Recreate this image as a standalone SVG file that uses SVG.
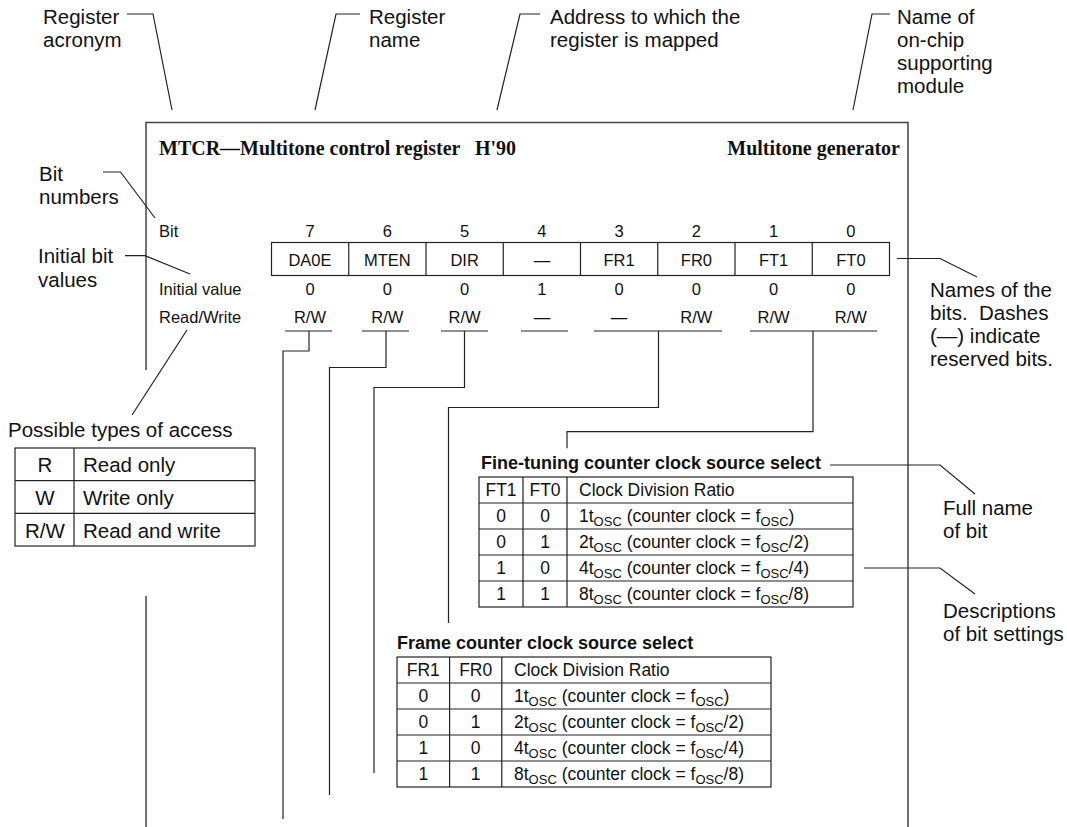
<svg xmlns="http://www.w3.org/2000/svg" width="1067" height="827" viewBox="0 0 1067 827">
<style>
.ln{stroke:#222;stroke-width:1.2;fill:none}
.fr{stroke:#444;stroke-width:1.5;fill:none}
.lab{font-family:"Liberation Sans",Arial,sans-serif;font-size:20.5px;fill:#111}
.reg{font-family:"Liberation Sans",Arial,sans-serif;font-size:16.5px;fill:#111}
.tb{font-family:"Liberation Sans",Arial,sans-serif;font-size:17.5px;fill:#111}
.tt{font-family:"Liberation Sans",Arial,sans-serif;font-size:18px;font-weight:bold;fill:#111}
.hd{font-family:"Liberation Serif","Times New Roman",serif;font-size:20px;font-weight:bold;fill:#111}
.c{text-anchor:middle}
</style>
<rect width="1067" height="827" fill="#fff"/>

<g id="frame">
<path class="fr" d="M146,370 V122.5 H908 V827 M146,596 V827"/>
<text class="hd" x="159" y="155">MTCR—Multitone control register</text>
<text class="hd" x="475" y="155">H'90</text>
<text class="hd" x="900" y="155" text-anchor="end">Multitone generator</text>
</g>

<g id="labels">
<text class="lab" x="43" y="24">Register</text>
<text class="lab" x="43" y="47">acronym</text>
<text class="lab" x="369" y="24">Register</text>
<text class="lab" x="369" y="47">name</text>
<text class="lab" x="550" y="24">Address to which the</text>
<text class="lab" x="550" y="47">register is mapped</text>
<text class="lab" x="897" y="24">Name of</text>
<text class="lab" x="897" y="47">on-chip</text>
<text class="lab" x="897" y="70">supporting</text>
<text class="lab" x="897" y="93">module</text>
<text class="lab" x="39" y="181">Bit</text>
<text class="lab" x="39" y="204">numbers</text>
<text class="lab" x="38" y="263">Initial bit</text>
<text class="lab" x="38" y="287">values</text>
<text class="lab" x="930" y="297">Names of the</text>
<text class="lab" x="930" y="320">bits.&#160; Dashes</text>
<text class="lab" x="930" y="343">(—) indicate</text>
<text class="lab" x="930" y="366">reserved bits.</text>
<text class="lab" x="943" y="515">Full name</text>
<text class="lab" x="943" y="538">of bit</text>
<text class="lab" x="943" y="618">Descriptions</text>
<text class="lab" x="943" y="641">of bit settings</text>
</g>

<g id="register">
<text class="reg" x="159" y="237">Bit</text>
<text class="reg" x="159" y="295">Initial value</text>
<text class="reg" x="159" y="323">Read/Write</text>
<rect class="ln" x="271.5" y="242.5" width="618" height="33"/>
<path class="ln" d="M348.75,242.5V275.5M426,242.5V275.5M503.25,242.5V275.5M580.5,242.5V275.5M657.75,242.5V275.5M735,242.5V275.5M812.25,242.5V275.5"/>
<g class="reg c">
<text x="310" y="237">7</text><text x="387.4" y="237">6</text><text x="464.6" y="237">5</text><text x="541.9" y="237">4</text>
<text x="619.1" y="237">3</text><text x="696.4" y="237">2</text><text x="773.6" y="237">1</text><text x="850.9" y="237">0</text>
<text x="310" y="266">DA0E</text><text x="387.4" y="266">MTEN</text><text x="464.6" y="266">DIR</text><text x="541.9" y="266">—</text>
<text x="619.1" y="266">FR1</text><text x="696.4" y="266">FR0</text><text x="773.6" y="266">FT1</text><text x="850.9" y="266">FT0</text>
<text x="310" y="295">0</text><text x="387.4" y="295">0</text><text x="464.6" y="295">0</text><text x="541.9" y="295">1</text>
<text x="619.1" y="295">0</text><text x="696.4" y="295">0</text><text x="773.6" y="295">0</text><text x="850.9" y="295">0</text>
<text x="310" y="323">R/W</text><text x="387.4" y="323">R/W</text><text x="464.6" y="323">R/W</text><text x="541.9" y="323">—</text>
<text x="619.1" y="323">—</text><text x="696.4" y="323">R/W</text><text x="773.6" y="323">R/W</text><text x="850.9" y="323">R/W</text>
</g>
</g>

<g id="access">
<text class="lab" x="8" y="437">Possible types of access</text>
<rect class="ln" x="15" y="448" width="240" height="98"/>
<path class="ln" d="M74,448V546M15,480.7H255M15,513.3H255"/>
<text class="lab c" x="45" y="472">R</text>
<text class="lab" x="83" y="472">Read only</text>
<text class="lab c" x="45" y="505">W</text>
<text class="lab" x="83" y="505">Write only</text>
<text class="lab c" x="45" y="538">R/W</text>
<text class="lab" x="83" y="538">Read and write</text>
</g>

<g id="finetune">
<text class="tt" x="481" y="469">Fine-tuning counter clock source select</text>
<rect class="ln" x="479" y="477" width="374" height="130"/>
<path class="ln" d="M523,477V607M567,477V607M479,503H853M479,529H853M479,555H853M479,581H853"/>
<g class="tb">
<text class="c" x="501" y="496">FT1</text><text class="c" x="545" y="496">FT0</text><text x="579" y="496">Clock Division Ratio</text>
<text class="c" x="501" y="522">0</text><text class="c" x="545" y="522">0</text>
<text x="579" y="522">1t<tspan dy="4" font-size="13">OSC</tspan><tspan dy="-4"> (counter clock = f</tspan><tspan dy="4" font-size="13">OSC</tspan><tspan dy="-4">)</tspan></text>
<text class="c" x="501" y="548">0</text><text class="c" x="545" y="548">1</text>
<text x="579" y="548">2t<tspan dy="4" font-size="13">OSC</tspan><tspan dy="-4"> (counter clock = f</tspan><tspan dy="4" font-size="13">OSC</tspan><tspan dy="-4">/2)</tspan></text>
<text class="c" x="501" y="574">1</text><text class="c" x="545" y="574">0</text>
<text x="579" y="574">4t<tspan dy="4" font-size="13">OSC</tspan><tspan dy="-4"> (counter clock = f</tspan><tspan dy="4" font-size="13">OSC</tspan><tspan dy="-4">/4)</tspan></text>
<text class="c" x="501" y="600">1</text><text class="c" x="545" y="600">1</text>
<text x="579" y="600">8t<tspan dy="4" font-size="13">OSC</tspan><tspan dy="-4"> (counter clock = f</tspan><tspan dy="4" font-size="13">OSC</tspan><tspan dy="-4">/8)</tspan></text>
</g>
</g>

<g id="framecounter">
<text class="tt" x="397" y="649">Frame counter clock source select</text>
<rect class="ln" x="397" y="657" width="374" height="130"/>
<path class="ln" d="M449.6,657V787M501.8,657V787M397,683H771M397,709H771M397,735H771M397,761H771"/>
<g class="tb">
<text class="c" x="423.3" y="676">FR1</text><text class="c" x="475.7" y="676">FR0</text><text x="514" y="676">Clock Division Ratio</text>
<text class="c" x="423.3" y="702">0</text><text class="c" x="475.7" y="702">0</text>
<text x="514" y="702">1t<tspan dy="4" font-size="13">OSC</tspan><tspan dy="-4"> (counter clock = f</tspan><tspan dy="4" font-size="13">OSC</tspan><tspan dy="-4">)</tspan></text>
<text class="c" x="423.3" y="728">0</text><text class="c" x="475.7" y="728">1</text>
<text x="514" y="728">2t<tspan dy="4" font-size="13">OSC</tspan><tspan dy="-4"> (counter clock = f</tspan><tspan dy="4" font-size="13">OSC</tspan><tspan dy="-4">/2)</tspan></text>
<text class="c" x="423.3" y="754">1</text><text class="c" x="475.7" y="754">0</text>
<text x="514" y="754">4t<tspan dy="4" font-size="13">OSC</tspan><tspan dy="-4"> (counter clock = f</tspan><tspan dy="4" font-size="13">OSC</tspan><tspan dy="-4">/4)</tspan></text>
<text class="c" x="423.3" y="780">1</text><text class="c" x="475.7" y="780">1</text>
<text x="514" y="780">8t<tspan dy="4" font-size="13">OSC</tspan><tspan dy="-4"> (counter clock = f</tspan><tspan dy="4" font-size="13">OSC</tspan><tspan dy="-4">/8)</tspan></text>
</g>
</g>

<g id="connectors">
<path class="ln" d="M127,14H153L172,110"/>
<path class="ln" d="M315,110L336,14H360"/>
<path class="ln" d="M497,110L520,14H540"/>
<path class="ln" d="M853,110L872,14H890"/>
<path class="ln" d="M103,172H120.5L155,218"/>
<path class="ln" d="M125,255.7H145L190,274"/>
<path class="ln" d="M187,330L132,415"/>
<path class="ln" d="M897,258.5H940L977,277"/>
<path class="ln" d="M830,465H940L975,494"/>
<path class="ln" d="M864,568H940L975,594"/>
<path class="ln" d="M285,331H332M362,331H409M441,331H488M521,331H568M594,331H722M750,331H877"/>
<path class="ln" d="M309,331V351H283V819"/>
<path class="ln" d="M386,331V367.5H329.5V795"/>
<path class="ln" d="M464.5,331V387.5H374V773"/>
<path class="ln" d="M658.5,331V407.5H448.5V623"/>
<path class="ln" d="M813,331V431.7H567V448.3"/>
</g>
</svg>
